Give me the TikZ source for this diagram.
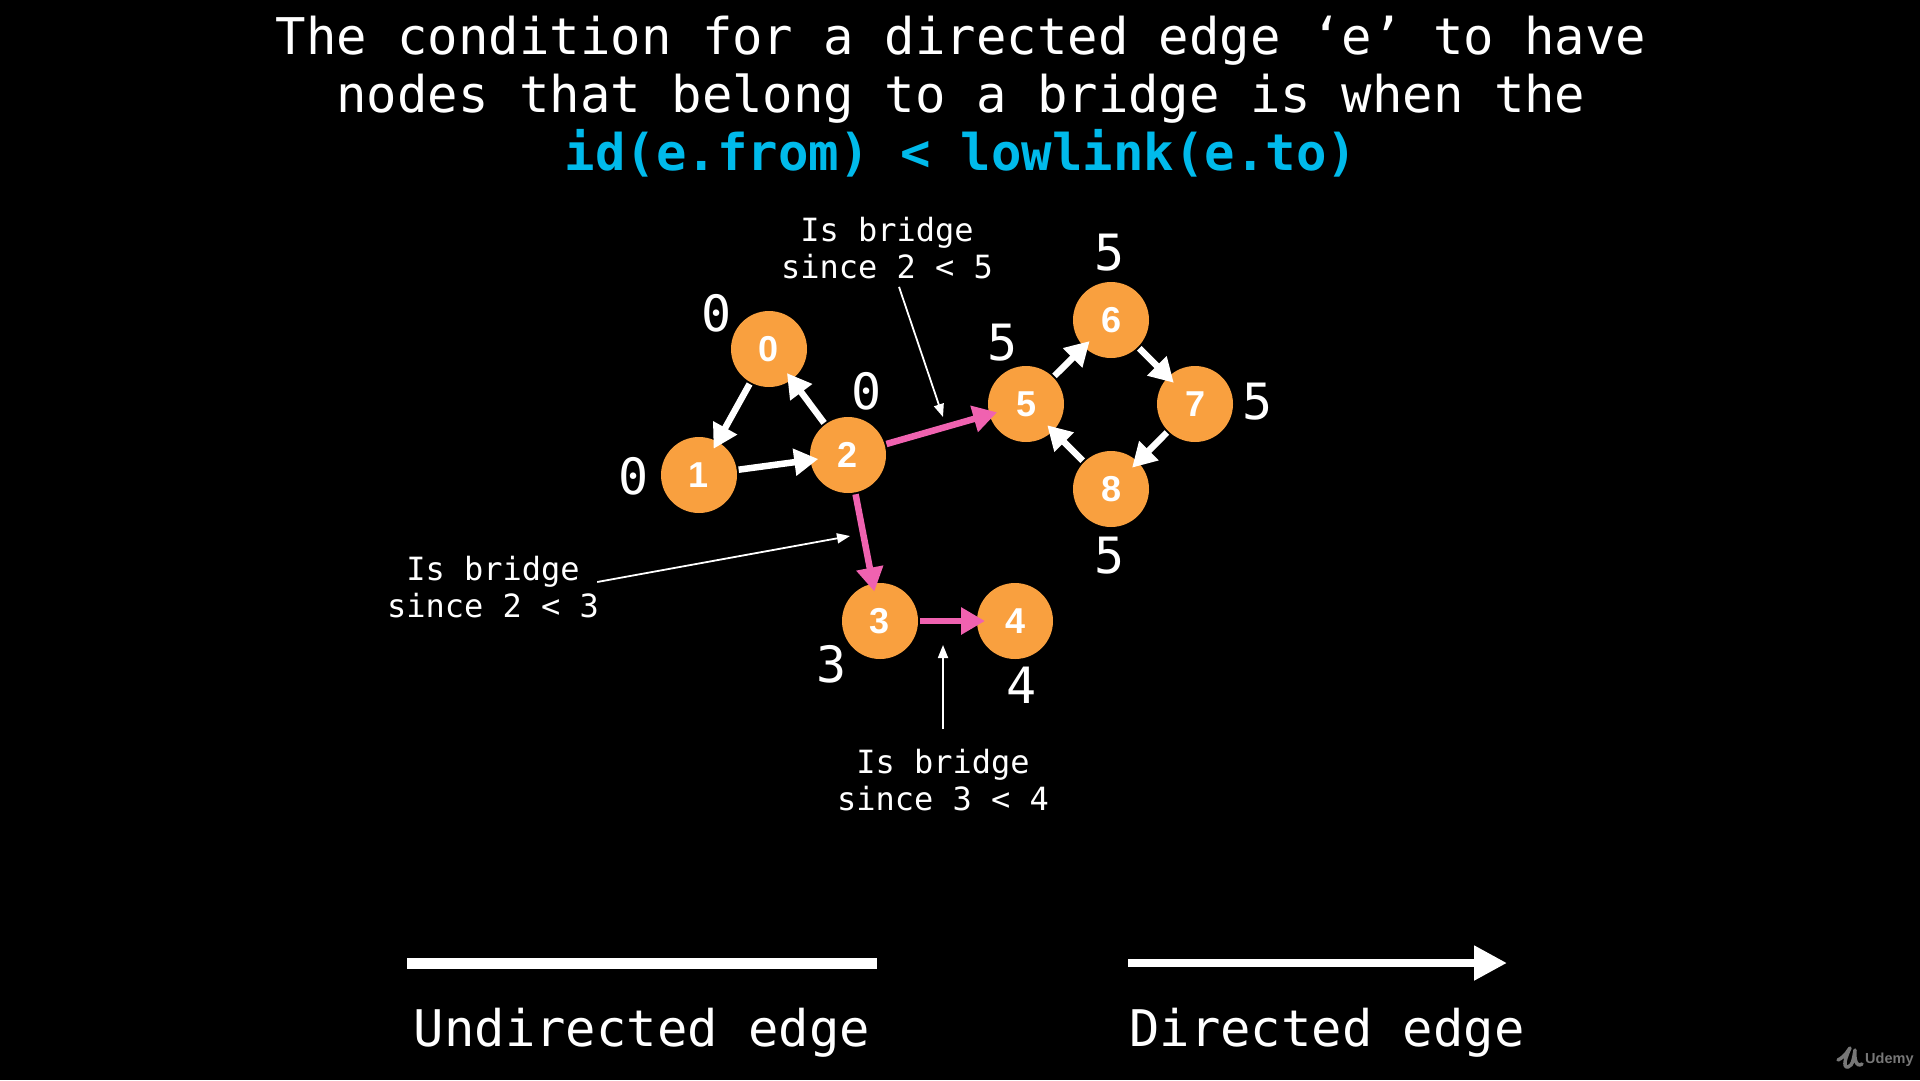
\documentclass[tikz,border=0pt]{standalone}
\usepackage{fontspec}
\setmainfont{DejaVu Sans Mono}
\newfontfamily\nodefont{Liberation Sans}
\usetikzlibrary{arrows.meta,calc}
\definecolor{orangenode}{HTML}{F9A03F}
\definecolor{pinkedge}{HTML}{F062B0}
\definecolor{cyantitle}{HTML}{00BAEB}
\definecolor{logogrey}{HTML}{777777}
\tikzset{
  vertex/.style={circle,fill=orangenode,minimum size=76pt,inner sep=0pt,outer sep=0pt,text=white,font=\nodefont\bfseries\fontsize{36}{36}\selectfont},
  diredge/.style={line width=6.5pt,white,-{Triangle[length=24pt,width=26pt]},shorten >=-8pt,shorten <=2pt},
  bridgeedge/.style={diredge,draw=pinkedge,-{Triangle[length=24pt,width=26pt,fill=pinkedge]}},
  notearrow/.style={line width=1.8pt,white,-{Triangle[length=13pt,width=10pt]}},
  titleline/.style={anchor=base,text=white,inner sep=0pt,font=\fontsize{50.6}{58}\selectfont},
  numlabel/.style={text=white,inner sep=0pt,font=\fontsize{50}{50}\selectfont},
  notelabel/.style={align=center,text=white,inner sep=2pt,font=\fontsize{32}{36.5}\selectfont},
  legendlabel/.style={anchor=base,text=white,inner sep=0pt,font=\fontsize{50.5}{58}\selectfont}
}
\begin{document}
\begin{tikzpicture}[x=1pt,y=-1pt]
\useasboundingbox (0,0) rectangle (1920,1080);
\fill[black] (0,0) rectangle (1920,1080);
% title
\node[titleline] (t1) at (961,54) {The condition for a directed edge ‘e’ to have};
\node[titleline] (t2) at (961,112) {nodes that belong to a bridge is when the};
\node[titleline,text=cyantitle,font=\bfseries\fontsize{50.6}{58}\selectfont] (t3) at (961,170) {id(e.from) < lowlink(e.to)};
% vertices
\node[vertex] (n0) at (769,349) {0};
\node[vertex] (n1) at (699,475) {1};
\node[vertex] (n2) at (848,455) {2};
\node[vertex] (n3) at (880,621) {3};
\node[vertex] (n4) at (1015,621) {4};
\node[vertex] (n5) at (1026,404) {5};
\node[vertex] (n6) at (1111,320) {6};
\node[vertex] (n7) at (1195,404) {7};
\node[vertex] (n8) at (1111,489) {8};
% edges
\draw[diredge] (n0) -- (n1);
\draw[diredge] (n1) -- (n2);
\draw[diredge] (n2) -- (n0);
\draw[diredge] (n5) -- (n6);
\draw[diredge] (n6) -- (n7);
\draw[diredge] (n7) -- (n8);
\draw[diredge] (n8) -- (n5);
\draw[bridgeedge] (n2) -- (n5);
\draw[bridgeedge] (n2) -- (n3);
\draw[bridgeedge] (n3) -- (n4);
% low-link values
\node[numlabel] (v0) at (717,313) {0};
\node[numlabel] (v1) at (634,476) {0};
\node[numlabel] (v2) at (867,391) {0};
\node[numlabel] (v3) at (832,664) {3};
\node[numlabel] (v4) at (1022,685) {4};
\node[numlabel] (v5) at (1003,343) {5};
\node[numlabel] (v6) at (1110,253) {5};
\node[numlabel] (v7) at (1258,402) {5};
\node[numlabel] (v8) at (1110,556) {5};
% notes
\node[notelabel] (noteA) at (887,248) {Is bridge\\since 2 < 5};
\node[notelabel] (noteB) at (493,587) {Is bridge\\since 2 < 3};
\node[notelabel] (noteC) at (943,780) {Is bridge\\since 3 < 4};
\coordinate (tipA) at (943,417);
\coordinate (tipB) at (850,536);
\coordinate (tipC) at (943,645);
\draw[notearrow] ([xshift=12pt,yshift=-6pt]noteA.south) -- (tipA);
\draw[notearrow] ([xshift=-4pt,yshift=5pt]noteB.east) -- (tipB);
\draw[notearrow] ([yshift=18pt]noteC.north) -- (tipC);
% legend
\coordinate (ua) at (407,963);
\coordinate (ub) at (877,963);
\coordinate (da) at (1128,963);
\coordinate (db) at (1507,963);
\draw[white,line width=11pt] (ua) -- (ub);
\draw[white,line width=8pt,-{Triangle[length=33pt,width=33pt]}] (da) -- (db);
\node[legendlabel] (lu) at (642,1046) {Undirected edge};
\node[legendlabel] (ld) at (1327,1046) {Directed edge};
% watermark
\draw[logogrey,line width=3.5pt,line cap=round,line join=round] (1838,1060) .. controls (1846,1056) and (1848,1050) .. (1850,1048) .. controls (1846,1056) and (1842,1068) .. (1848,1067) .. controls (1853,1066) and (1854,1056) .. (1855,1050) .. controls (1854,1058) and (1856,1068) .. (1862,1064);
\node[anchor=base west,inner sep=0pt,text=logogrey,font=\nodefont\bfseries\fontsize{14.5}{15}\selectfont] (logo) at (1865,1063) {Udemy};
\end{tikzpicture}
\end{document}
